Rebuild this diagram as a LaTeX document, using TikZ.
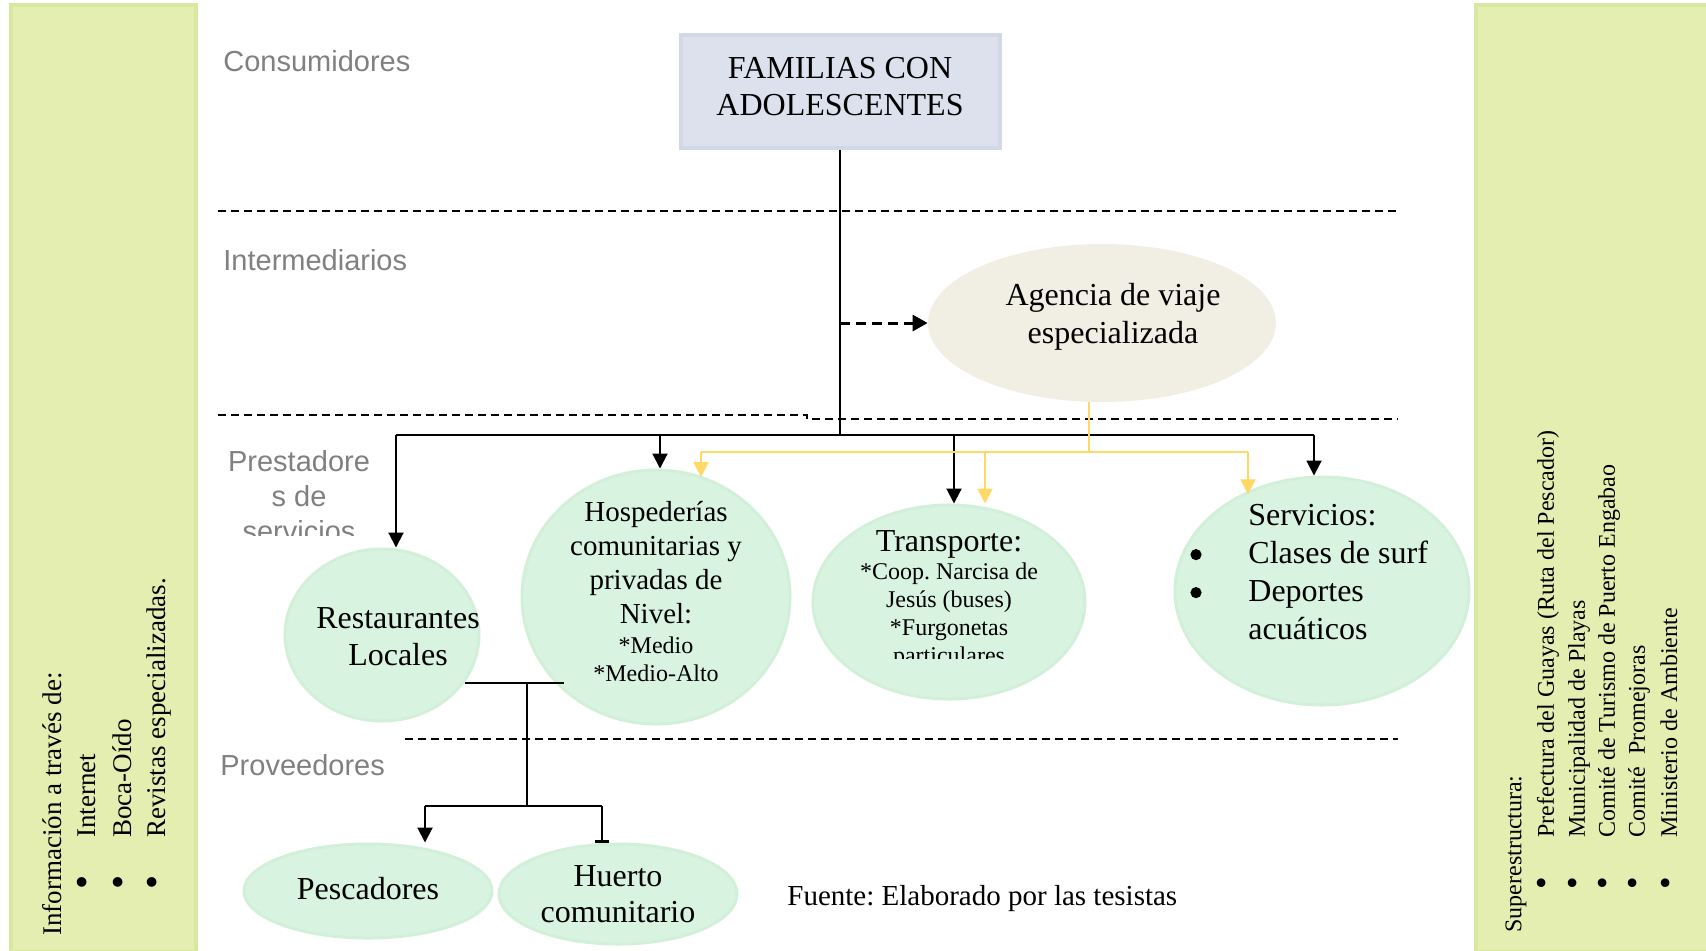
\documentclass[tikz,border=0pt]{standalone}
\usepackage{fontspec}
\usepackage{graphicx}
\setmainfont{Liberation Serif}
\newfontfamily\levelfont{Liberation Sans}
\usetikzlibrary{shapes.geometric, arrows.meta, positioning}
\frenchspacing

\definecolor{panelgreen}{HTML}{E3EEB0}
\definecolor{panelrim}{HTML}{D9E8A0}
\definecolor{boxblue}{HTML}{DDE1EE}
\definecolor{boxrim}{HTML}{D3D8E8}
\definecolor{agencybeige}{HTML}{F1EFE4}
\definecolor{actorgreen}{HTML}{D9F3E1}
\definecolor{actorrim}{HTML}{D1EFD9}
\definecolor{agencyline}{HTML}{FFD966}
\definecolor{levelgray}{HTML}{808080}

\newcommand{\listdot}{\scalebox{1.5}{\textbullet}}
\newcommand{\servdot}{\tikz[baseline = -4.5pt] \fill [black] (0pt, 0pt) circle (2.8pt);}

\tikzset{
    actor/.style    = {ellipse, fill = actorgreen, draw = actorrim, line width = 1.5pt, inner sep = 0},
    level/.style    = {font = \levelfont\fontsize{14.5}{17.5}\selectfont, text = levelgray, inner sep = 0},
    divider/.style  = {black, line width = .8pt, dash pattern = on 4pt off 2.5pt},
    wire/.style     = {black, line width = 1pt},
    link/.style     = {wire, -{Triangle[width = 7.5pt, length = 7.5pt]}},
    tourlink/.style = {agencyline, line width = 1.1pt, -{Triangle[width = 7.5pt, length = 7.5pt]}},
    panel/.style    = {fill = panelgreen, draw = panelrim, line width = 2pt},
    sidetext/.style = {rotate = 90, anchor = west, inner sep = 0},
    bigtext/.style  = {font = \fontsize{16}{18.5}\selectfont, align = center, inner sep = 0},
}

\begin{document}
\begin{tikzpicture}[x = .5pt, y = -.5pt]
    \useasboundingbox (0, 0) rectangle (1706, 950);

    % side panels
    \draw [panel] (11, 5) rectangle (196, 952);
    \draw [panel] (1476, 5) rectangle (1712, 952);

    \begin{scope}[font = \fontsize{13.5}{16}\selectfont]
        \node [sidetext] (info)     at (52, 936)  {Información a través de:};
        \node [sidetext] (internet) at (87, 890)  {\makebox[26pt][l]{\listdot}Internet};
        \node [sidetext] (boca)     at (122, 890) {\makebox[26pt][l]{\listdot}Boca-Oído};
        \node [sidetext] (revistas) at (159, 890) {\makebox[26pt][l]{\listdot}Revistas especializadas.};
    \end{scope}

    \begin{scope}[font = \fontsize{12}{14}\selectfont]
        \node [sidetext] (super)      at (1516, 933) {Superestructura:};
        \node [sidetext] (prefectura) at (1548, 890) {\makebox[26pt][l]{\listdot}Prefectura del Guayas (Ruta del Pescador)};
        \node [sidetext] (municipio)  at (1579, 890) {\makebox[26pt][l]{\listdot}Municipalidad de Playas};
        \node [sidetext] (comite)     at (1609, 890) {\makebox[26pt][l]{\listdot}Comité de Turismo de Puerto Engabao};
        \node [sidetext] (promejoras) at (1639, 890) {\makebox[26pt][l]{\listdot}Comité\ \ Promejoras};
        \node [sidetext] (ministerio) at (1669, 890) {\makebox[26pt][l]{\listdot}Ministerio de Ambiente};
    \end{scope}

    % levels
    \node [level, anchor = west] (consumidores)   at (223, 61)  {Consumidores};
    \node [level, anchor = west] (intermediarios) at (223, 260) {Intermediarios};
    \node [level, anchor = west] (proveedores)    at (220, 765) {Proveedores};
    \begin{scope}
        \clip (200, 430) rectangle (400, 535);
        \node [level, align = center] (prestadores) at (299, 496) {Prestadore\\s de\\servicios};
    \end{scope}

    \draw [divider] (218, 211) -- (1398, 211);
    \draw [divider] (218, 415) -- (807, 415) -- (807, 419) -- (1398, 419);
    \draw [divider] (405, 739) -- (1398, 739);

    % actors
    \node [fill = boxblue, draw = boxrim, line width = 2pt, minimum width = 159.5pt, minimum height = 56.5pt] (familias) at (840, 91.5) {};
    \node [bigtext] (familias text) at (840, 87) {FAMILIAS CON\\ADOLESCENTES};

    \node [ellipse, fill = agencybeige, inner sep = 0, minimum width = 174pt, minimum height = 79pt] (agencia) at (1102, 323) {};
    \node [bigtext, font = \fontsize{16}{19}\selectfont] (agencia text) at (1113, 317) {Agencia de viaje\\especializada};

    \node [actor, minimum width = 97pt,  minimum height = 86pt]  (restaurantes) at (382, 635)  {};
    \node [actor, minimum width = 134pt, minimum height = 127pt] (hospederias)  at (656, 597)  {};
    \node [actor, minimum width = 136pt, minimum height = 97pt]  (transporte)   at (949, 602)  {};
    \node [actor, minimum width = 147pt, minimum height = 114pt] (servicios)    at (1322, 591) {};
    \node [actor, minimum width = 124pt, minimum height = 47pt]  (pescadores)   at (368, 891)  {};
    \node [actor, minimum width = 119pt, minimum height = 50pt]  (huerto)       at (618, 894)  {};

    \node [bigtext] (restaurantes text) at (398, 637) {Restaurantes\\Locales};
    \node [bigtext, font = \fontsize{14.5}{17}\selectfont] (hospederias text) at (656, 592)
        {Hospederías\\comunitarias y\\privadas de\\Nivel:\\[-2pt]{\fontsize{12}{14}\selectfont *Medio}\\[-3pt]{\fontsize{12}{14}\selectfont *Medio-Alto}};
    \begin{scope}
        \clip (800, 515) rectangle (1100, 658);
        \node [bigtext, font = \fontsize{12}{14}\selectfont] (transporte text) at (949, 600)
            {{\fontsize{16}{19}\selectfont Transporte:}\\*Coop. Narcisa de\\Jesús (buses)\\*Furgonetas\\particulares};
    \end{scope}
    \node [font = \fontsize{16}{19}\selectfont, anchor = west, inner sep = 0] (servicios text) at (1190, 575)
        {\begin{tabular}{@{}p{29pt}@{}l@{}}
            & Servicios:\\
            \servdot & Clases de surf\\
            \servdot & Deportes\\
            & acuáticos
        \end{tabular}};
    \node [bigtext] (pescadores text) at (368, 889) {Pescadores};
    \node [bigtext, font = \fontsize{16}{18}\selectfont] (huerto text) at (618, 894) {Huerto\\comunitario};

    \node [font = \fontsize{14.5}{17}\selectfont, anchor = west, inner sep = 0] (fuente) at (787, 899) {Fuente: Elaborado por las tesistas};

    % connectors
    \coordinate (hub)             at (840, 435);
    \coordinate (to restaurantes) at (396, 435);
    \coordinate (to hospederias)  at (660, 435);
    \coordinate (to transporte)   at (954, 435);
    \coordinate (to servicios)    at (1314, 435);

    \draw [wire] (familias.south) -- (hub);
    \draw [wire, dash pattern = on 5pt off 3pt, line width = 1.5pt, -{Triangle[width = 8pt, length = 7.5pt]}] (familias.south |- agencia.west) -- (agencia.west);
    \draw [wire] (to restaurantes) -- (to servicios);
    \draw [link] (to restaurantes) -- (to restaurantes |- restaurantes.north);
    \draw [link] (to hospederias)  -- (to hospederias |- hospederias.north);
    \draw [link] (to transporte)   -- (to transporte |- transporte.north);
    \draw [link] (to servicios)    -- (to servicios |- servicios.north);

    \coordinate (tour hub)         at (1089, 452);
    \coordinate (tour hospederias) at (701, 452);
    \coordinate (tour transporte)  at (985, 452);
    \coordinate (tour servicios)   at (1248, 452);

    \draw [tourlink, -] (tour hub |- agencia.south) -- (tour hub);
    \draw [tourlink, -] (tour hospederias) -- (tour servicios);
    \draw [tourlink] (tour hospederias) -- (tour hospederias |- hospederias.68);
    \draw [tourlink] (tour transporte)  -- (tour transporte |- transporte.north);
    \draw [tourlink] (tour servicios)   -- (tour servicios |- servicios.130);

    \coordinate (supply)        at (527, 682);
    \coordinate (supply split)  at (527, 806);
    \coordinate (to pescadores) at (425, 806);
    \coordinate (to huerto)     at (602, 806);

    \draw [wire] (restaurantes.-30) -- (restaurantes.-30 -| hospederias.226);
    \draw [wire] (supply) -- (supply split);
    \draw [wire] (to pescadores) -- (to huerto);
    \draw [link] (to pescadores) -- (to pescadores |- pescadores.north);
    \draw [wire, -{Bar[width = 7pt, line width = 1.5pt]}] (to huerto) -- (to huerto |- huerto.north);
\end{tikzpicture}
\end{document}
